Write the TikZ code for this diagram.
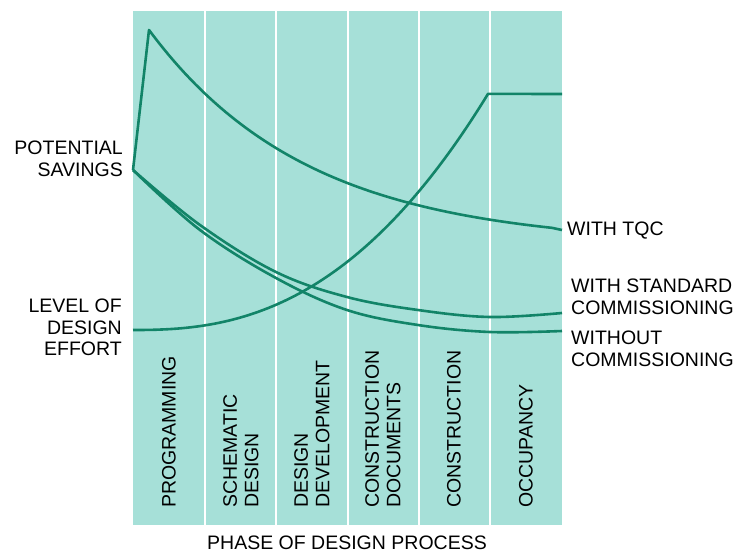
\documentclass[tikz,border=0pt]{standalone}
\usepackage{fontspec}
\setmainfont{Liberation Sans}
\definecolor{panel}{RGB}{166,224,216}
\definecolor{trend}{RGB}{18,132,104}
\tikzset{
  curve/.style={trend,line width=2.6pt,line join=round},
  txt/.style={font=\fontsize{19.5}{21.5}\selectfont,inner sep=0pt},
  phase/.style={txt,rotate=90,anchor=west,align=left},
}
\begin{document}
\begin{tikzpicture}[x=1pt,y=-1pt]
  \useasboundingbox (0,0) rectangle (747,552);
  \fill[panel] (133,11) rectangle (562,525);
  \foreach \x in {205,276,348,419,490}
    \draw[white,line width=1.4pt] (\x,11) -- (\x,525);
  % savings curves
  \draw[curve] (133,170) -- (149,30) -- plot[domain=149:552,samples=80]
    (\x,{245-215*exp(-0.00627*(\x-149))}) -- (562,230);
  \draw[curve] plot[smooth,tension=0.6] coordinates
    {(133,170) (200,225) (276,272) (347,297) (418,310) (490,317) (562,313)};
  \draw[curve] plot[smooth,tension=0.6] coordinates
    {(133,170) (200,230) (276,278) (347,310) (418,325) (490,332) (562,331)};
  % design effort
  \draw[curve] (133,330) -- plot[domain=133.5:488,samples=80]
    (\x,{330-68*exp(2.46*ln((\x-133)/214))}) -- (562,94);
  % labels
  \node[txt,anchor=north east,align=right] (savings) at (123,141) {POTENTIAL\\SAVINGS};
  \node[txt,anchor=north east,align=right] (effort) at (122,299) {LEVEL OF\\DESIGN\\EFFORT};
  \node[txt,anchor=base west] (tqc) at (567,235) {WITH TQC};
  \node[txt,anchor=north west,align=left] (std) at (571,279) {WITH STANDARD\\COMMISSIONING};
  \node[txt,anchor=north west,align=left] (none) at (571,331) {WITHOUT\\COMMISSIONING};
  \node[phase] (prog) at (169,508) {PROGRAMMING};
  \node[phase] (schem) at (241,508) {SCHEMATIC\\DESIGN};
  \node[phase] (devel) at (312,508) {DESIGN\\DEVELOPMENT};
  \node[phase] (docs) at (383,508) {CONSTRUCTION\\DOCUMENTS};
  \node[phase] (constr) at (454,508) {CONSTRUCTION};
  \node[phase] (occ) at (526,508) {OCCUPANCY};
  \node[txt,anchor=base] (axis) at (347,549) {PHASE OF DESIGN PROCESS};
\end{tikzpicture}
\end{document}
